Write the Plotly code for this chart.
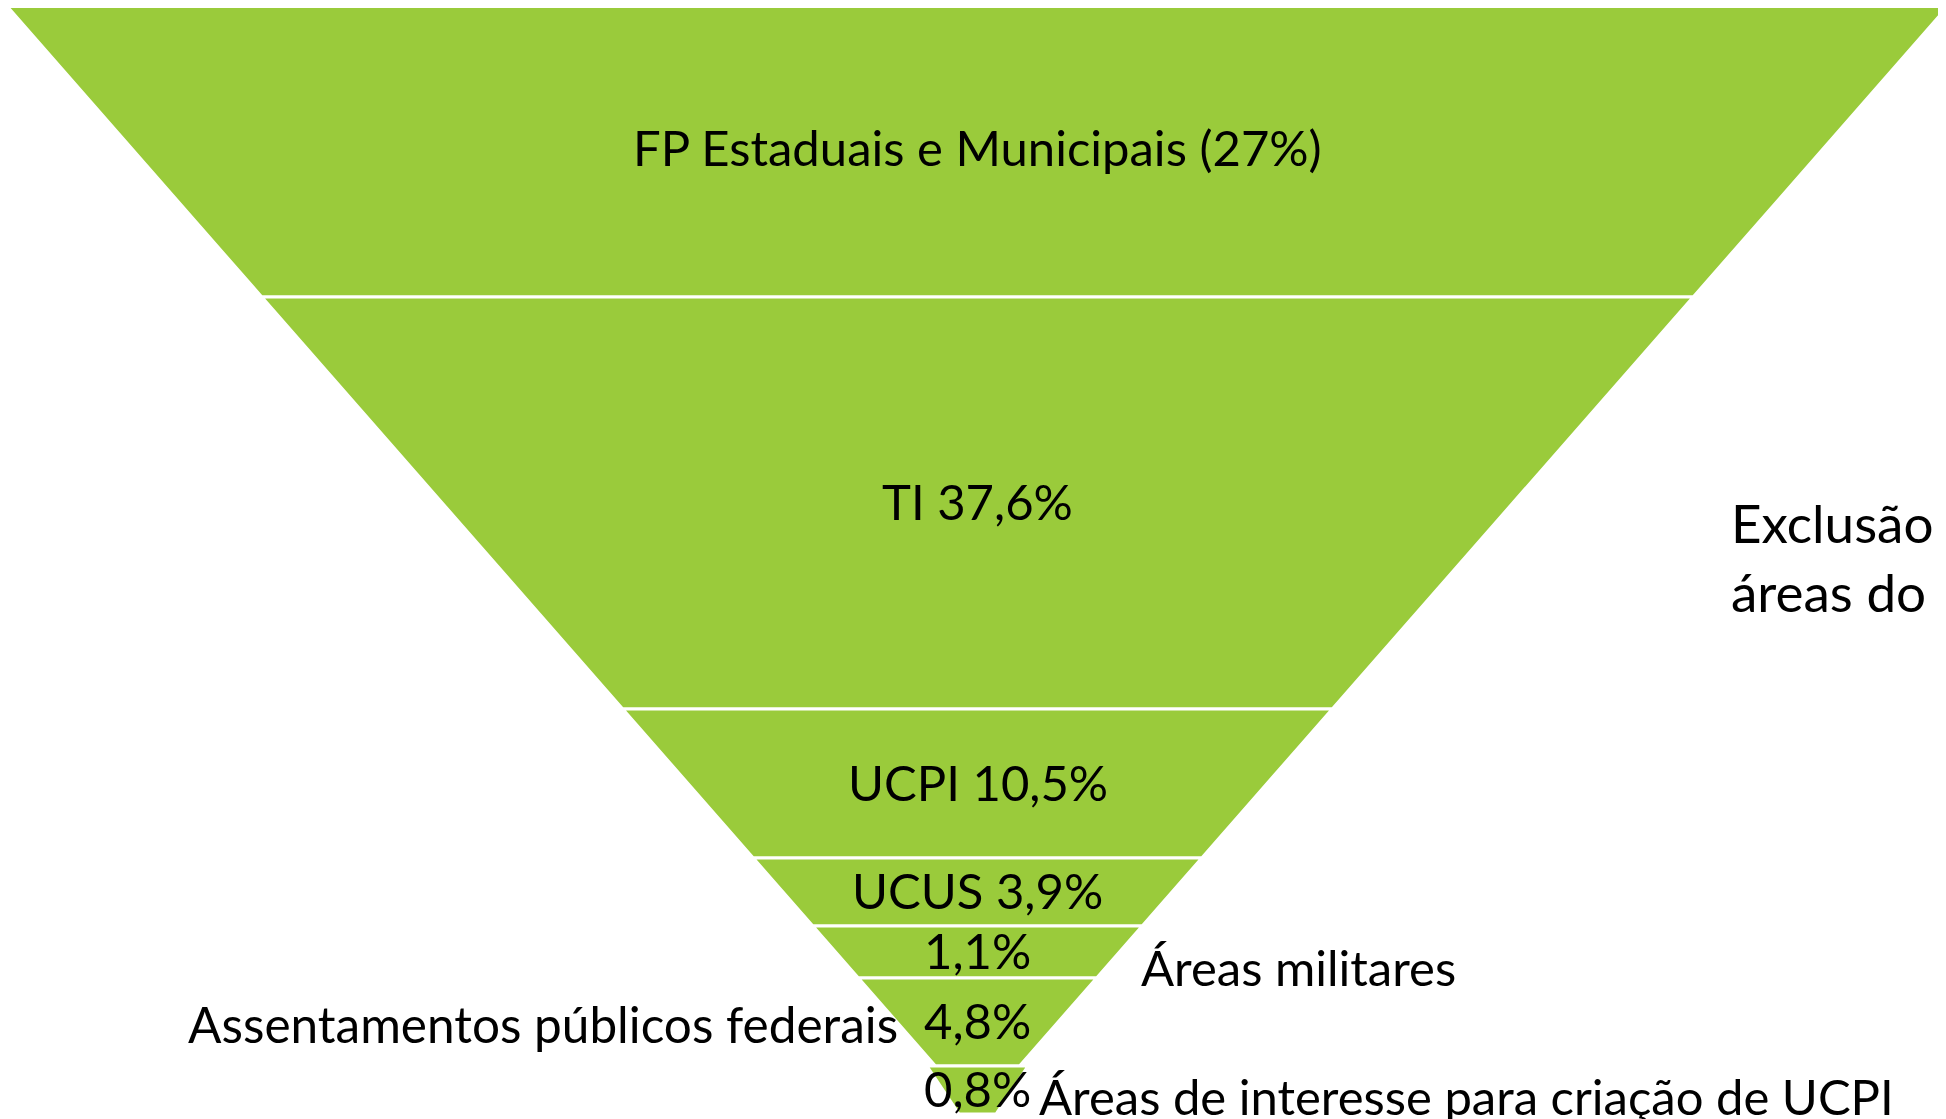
import plotly.graph_objects as go

# ---- data ----
band_labels = [
    "FP Estaduais e Municipais (27%)",
    "TI 37,6%",
    "UCPI 10,5%",
    "UCUS 3,9%",
    "1,1%",
    "4,8%",
    "0,8%",
]
band_shares = [27.0, 37.6, 10.5, 3.9, 1.1, 4.8, 0.8]

side_labels = [
    "Exclusão<br>áreas do",
    "Áreas militares",
    "Assentamentos públicos federais",
    "Áreas de interesse para criação de UCPI",
]

# ---- layout (visual layer thickness) ----
W, H = 1946, 1119
OFF = 8  # default page body margin
layer_thickness = [296, 412, 149, 68, 52, 88, 48]
top_y = 1
center_x = 977.5
top_half = 975
slope = 0.876
tip_top_half, tip_bottom_half = 50.5, 18.5
GREEN = "rgb(154,203,59)"
FONT = "Lato"
FS = 49

fig = go.Figure()

bounds = [top_y]
for t in layer_thickness:
    bounds.append(bounds[-1] + t)

def half(y):
    return top_half - slope * (y - top_y)

n = len(band_labels)
for i in range(n):
    y0, y1 = bounds[i], bounds[i + 1]
    if i == n - 1:
        h0, h1 = tip_top_half, tip_bottom_half
    else:
        h0, h1 = half(y0), half(y1)
    xs = [center_x - h0, center_x + h0, center_x + h1, center_x - h1, center_x - h0]
    ys = [y0, y0, y1, y1, y0]
    fig.add_trace(go.Scatter(
        x=xs, y=ys, mode="lines", fill="toself", fillcolor=GREEN,
        line=dict(color="white", width=3), hoverinfo="skip", showlegend=False,
        cliponaxis=True,
    ))
    fig.add_annotation(
        x=center_x, y=(y0 + y1) / 2 - 2, text=band_labels[i], showarrow=False,
        xanchor="center", yanchor="middle",
        font=dict(family=FONT, size=FS, color="black"),
    )

# side labels
side_pos = [
    (1729, 557, "left", 53),
    (1139, 967, "left", FS),
    (900, 1024, "right", 49.5),
    (1037, 1096, "left", FS),
]
for txt, (x, y, anc, fs) in zip(side_labels, side_pos):
    fig.add_annotation(
        x=x, y=y, text=txt, showarrow=False, xanchor=anc, yanchor="middle",
        align="left", font=dict(family=FONT, size=fs, color="black"),
    )

fig.update_layout(
    width=W - OFF, height=H - OFF, margin=dict(l=0, r=0, t=0, b=0),
    paper_bgcolor="white", plot_bgcolor="white",
    xaxis=dict(range=[OFF, W], visible=False, fixedrange=True),
    yaxis=dict(range=[H, OFF], visible=False, fixedrange=True),
)

fig.write_html("out.html")
